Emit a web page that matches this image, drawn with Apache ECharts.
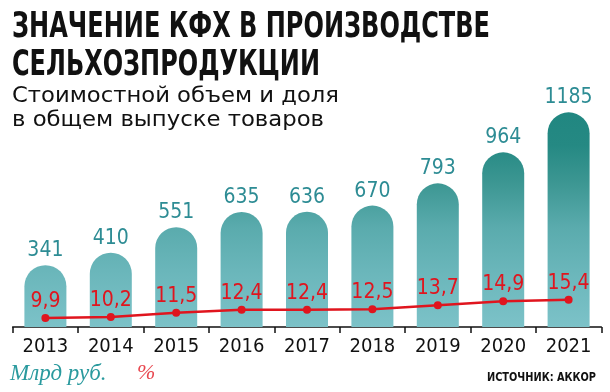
<!DOCTYPE html>
<html>
<head>
<meta charset="utf-8">
<script src="https://cdn.jsdelivr.net/npm/echarts@6/dist/echarts.min.js"></script>
<style>
html,body{margin:0;padding:0;background:#fff;}
#chart{width:610px;height:392px;}
</style>
</head>
<body>
<div id="chart"></div>
<script>
var categories = ['2013','2014','2015','2016','2017','2018','2019','2020','2021'];
var valuesBln = [341, 410, 551, 635, 636, 670, 793, 964, 1185];
var sharePct = [9.9, 10.2, 11.5, 12.4, 12.4, 12.5, 13.7, 14.9, 15.4];
var titleLines = ['ЗНАЧЕНИЕ КФХ В ПРОИЗВОДСТВЕ', 'СЕЛЬХОЗПРОДУКЦИИ'];
var subtitleLines = ['Стоимостной объем и доля', 'в общем выпуске товаров'];
var legendBars = 'Млрд руб.';
var legendLine = '%';
var sourceText = 'ИСТОЧНИК: АККОР';

var NARROW = '"Liberation Sans Narrow", "DejaVu Sans Condensed", "Noto Sans", sans-serif';

var measureCtx = document.createElement('canvas').getContext('2d');
function fitText(text, font, x, y, targetWidth, fill, scaleY) {
  measureCtx.font = font;
  var w = measureCtx.measureText(text).width;
  return {
    type: 'text', x: x, y: y, scaleX: targetWidth / w, scaleY: scaleY || 1,
    style: {text: text, font: font, fill: fill, textVerticalAlign: 'top'}
  };
}

var chart = echarts.init(document.getElementById('chart'), null, {renderer: 'canvas'});

var option = {
  animation: false,
  backgroundColor: '#ffffff',
  grid: {left: 12.7, right: 8.7, top: 100.5, bottom: 65},
  xAxis: {
    type: 'category',
    data: categories,
    boundaryGap: true,
    axisLine: {show: true, lineStyle: {color: '#111', width: 1.5}},
    axisTick: {show: true, length: 6, lineStyle: {color: '#111', width: 1.5}},
    axisLabel: {color: '#111', fontSize: 20, fontFamily: NARROW, margin: 10}
  },
  yAxis: [
    {type: 'value', min: 0, max: 1250, show: false},
    {type: 'value', min: 7.195, max: 75.27, show: false}
  ],
  series: [
    {
      type: 'bar',
      data: valuesBln,
      barWidth: 42,
      itemStyle: {
        borderRadius: [21, 21, 0, 0],
        color: {
          type: 'linear', x: 0, y: 100, x2: 0, y2: 327, global: true,
          colorStops: [
            {offset: 0, color: '#1f8680'},
            {offset: 0.2, color: '#258983'},
            {offset: 0.37, color: '#3d9793'},
            {offset: 0.56, color: '#5aabad'},
            {offset: 0.75, color: '#6ab6ba'},
            {offset: 1, color: '#7cc2c8'}
          ]
        }
      },
      label: {
        show: true, position: 'top', distance: 4,
        color: '#2d8c94', fontSize: 21, fontFamily: NARROW
      },
      z: 2
    },
    {
      type: 'line',
      yAxisIndex: 1,
      data: sharePct,
      symbol: 'circle',
      symbolSize: 8,
      lineStyle: {color: '#e0151e', width: 2.5},
      itemStyle: {color: '#e0151e'},
      label: {
        show: true, position: 'top', distance: 2,
        color: '#e0151e', fontSize: 21, fontFamily: NARROW,
        formatter: function (p) { return String(p.value).replace('.', ','); }
      },
      z: 3
    }
  ],
  graphic: [
    fitText(titleLines[0], 'bold 35px ' + NARROW, 12, 10, 478, '#111'),
    fitText(titleLines[1], 'bold 35px ' + NARROW, 12, 48, 308, '#111'),
    fitText(subtitleLines[0], '21px ' + NARROW, 12, 86, 327, '#111'),
    fitText(subtitleLines[1], '21px ' + NARROW, 12, 110, 312, '#111'),
    {type: 'text', x: 10, y: 362, style: {text: legendBars, font: 'italic 23px "Liberation Serif", "DejaVu Serif", serif', fill: '#2a9a9e', textVerticalAlign: 'top'}},
    {type: 'text', x: 137, y: 362, style: {text: legendLine, font: 'italic 22px "Liberation Serif", "DejaVu Serif", serif', fill: '#e8474f', textVerticalAlign: 'top'}},
    fitText(sourceText, 'bold 13px ' + NARROW, 487, 371, 109, '#111')
  ]
};
chart.setOption(option);
</script>
</body>
</html>
